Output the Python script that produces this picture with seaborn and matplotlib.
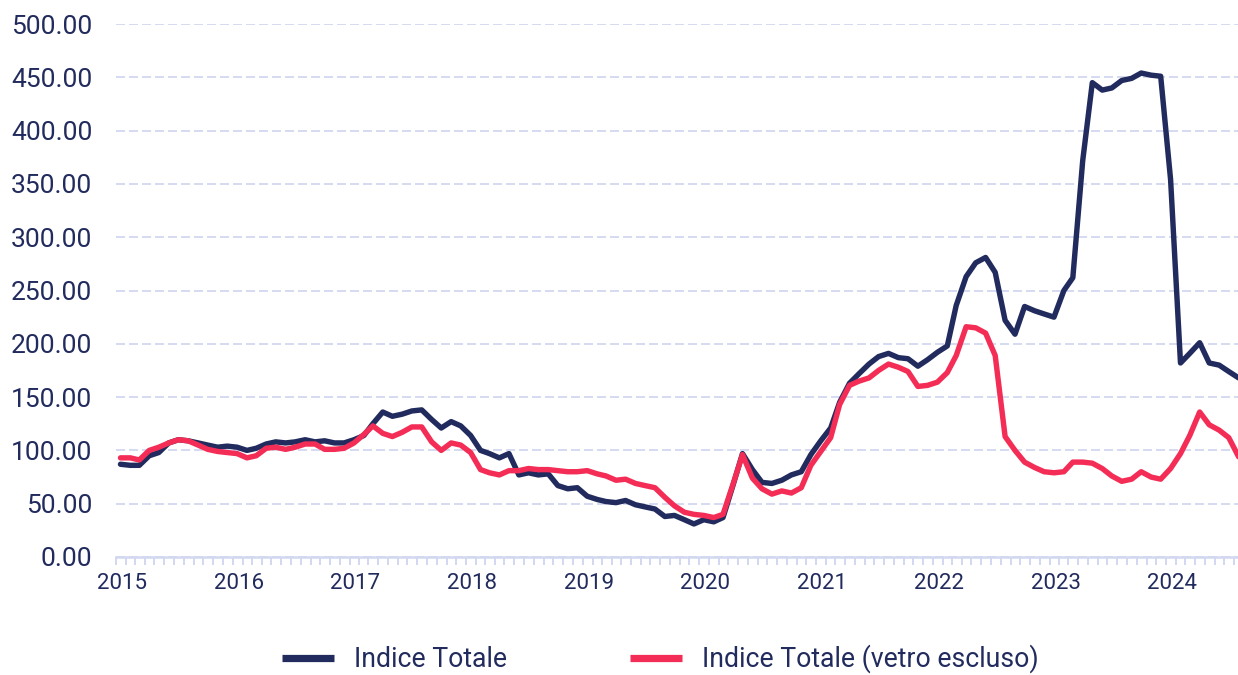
"""
Indice Totale vs Indice Totale (vetro escluso), monthly 2015-2024.
"""

import pandas as pd
import matplotlib
matplotlib.use("Agg")
import matplotlib.pyplot as plt
import matplotlib.dates as mdates
from matplotlib.ticker import FormatStrFormatter, MultipleLocator
from matplotlib.transforms import ScaledTranslation
import seaborn as sns

# monthly values, Jan 2015 -> Aug 2024
indice_totale = [
    87, 86, 86, 95, 98, 107, 110, 109, 107, 105, 103, 104,      # 2015
    103, 100, 102, 106, 108, 107, 108, 110, 108, 109, 107, 107,  # 2016
    110, 114, 125, 136, 132, 134, 137, 138, 129, 121, 127, 123,  # 2017
    114, 100, 97, 93, 97, 77, 79, 77, 78, 67, 64, 65,            # 2018
    57, 54, 52, 51, 53, 49, 47, 45, 38, 39, 35, 31,              # 2019
    35, 33, 37, 67, 97, 82, 70, 69, 72, 77, 80, 96,              # 2020
    109, 121, 145, 163, 172, 181, 188, 191, 187, 186, 179, 185,  # 2021
    192, 198, 236, 263, 276, 281, 267, 222, 209, 235, 231, 228,  # 2022
    225, 250, 262, 372, 445, 438, 440, 447, 449, 454, 452, 451,  # 2023
    354, 182, 191, 201, 182, 180, 174, 168,                      # 2024
]
indice_vetro_escluso = [
    93, 93, 91, 100, 103, 107, 110, 109, 105, 101, 99, 98,       # 2015
    97, 93, 95, 102, 103, 101, 103, 106, 106, 101, 101, 102,     # 2016
    107, 115, 123, 116, 113, 117, 122, 122, 108, 100, 107, 105,  # 2017
    98, 82, 79, 77, 81, 81, 83, 82, 82, 81, 80, 80,              # 2018
    81, 78, 76, 72, 73, 69, 67, 65, 56, 48, 42, 40,              # 2019
    39, 37, 40, 68, 96, 74, 64, 59, 62, 60, 65, 86,              # 2020
    99, 112, 143, 161, 165, 168, 175, 181, 178, 174, 160, 161,   # 2021
    164, 173, 189, 216, 215, 210, 189, 113, 100, 89, 84, 80,     # 2022
    79, 80, 89, 89, 88, 83, 76, 71, 73, 80, 75, 73,              # 2023
    83, 97, 114, 136, 124, 119, 112, 94,                         # 2024
]
serie_names = ["Indice Totale", "Indice Totale (vetro escluso)"]

NAVY = "#222b5d"
RED = "#f42d57"
GRID = "#d2d8f0"

sns.set_style("white")
plt.rcParams["font.family"] = ["Roboto", "DejaVu Sans"]

dates = pd.date_range("2015-01-01", periods=len(indice_totale), freq="MS") + pd.Timedelta(days=14)
df = pd.DataFrame({
    "data": dates,
    serie_names[0]: indice_totale,
    serie_names[1]: indice_vetro_escluso,
}).melt(id_vars="data", var_name="serie", value_name="valore")

fig = plt.figure(figsize=(12.38, 6.75), dpi=100)
ax = fig.add_axes([116 / 1238, 118 / 675, 1 - 116 / 1238, 533 / 675])

sns.lineplot(data=df, x="data", y="valore", hue="serie", hue_order=serie_names,
             palette=[NAVY, RED], linewidth=3.9, ax=ax, legend=False)

ax.set_ylim(0, 500)
ax.set_xlim(pd.Timestamp("2015-01-01"), pd.Timestamp("2024-08-13"))
ax.yaxis.set_major_locator(MultipleLocator(50))
ax.yaxis.set_major_formatter(FormatStrFormatter("%.2f"))
ax.xaxis.set_major_locator(mdates.YearLocator())
ax.xaxis.set_major_formatter(mdates.DateFormatter("%Y"))
ax.xaxis.set_minor_locator(mdates.MonthLocator())

ax.set_xlabel("")
ax.set_ylabel("")
ax.set_axisbelow(True)
ax.yaxis.grid(True, color=GRID, linewidth=1.3, linestyle=(0, (5.0, 2.2)))
ax.xaxis.grid(False)

for side in ["top", "right", "left"]:
    ax.spines[side].set_visible(False)
ax.spines["bottom"].set_color(GRID)
ax.spines["bottom"].set_linewidth(1.8)

ax.tick_params(axis="y", length=0, pad=17, labelsize=19, labelcolor=NAVY)
ax.tick_params(axis="x", which="both", length=5.5, width=1.4, color=GRID,
               pad=6, labelsize=16, labelcolor=NAVY, bottom=True)
# year labels sit a little right of their tick in the original
shift = ScaledTranslation(6 / 100, 0, fig.dpi_scale_trans)
for lbl in ax.get_xticklabels():
    lbl.set_transform(lbl.get_transform() + shift)

handles = ax.get_lines()[:2]
leg = fig.legend(handles, serie_names, loc="center", bbox_to_anchor=(660 / 1238, 16 / 675),
                 ncol=2, frameon=False, handlelength=1.95, handletextpad=0.75,
                 columnspacing=4.6, borderpad=0.1, prop={"size": 19.2})
for t in leg.get_texts():
    t.set_color(NAVY)
for line in leg.get_lines():
    line.set_linewidth(5.2)
    line.set_solid_capstyle("butt")

fig.savefig("out.png", dpi=100, facecolor="white")
